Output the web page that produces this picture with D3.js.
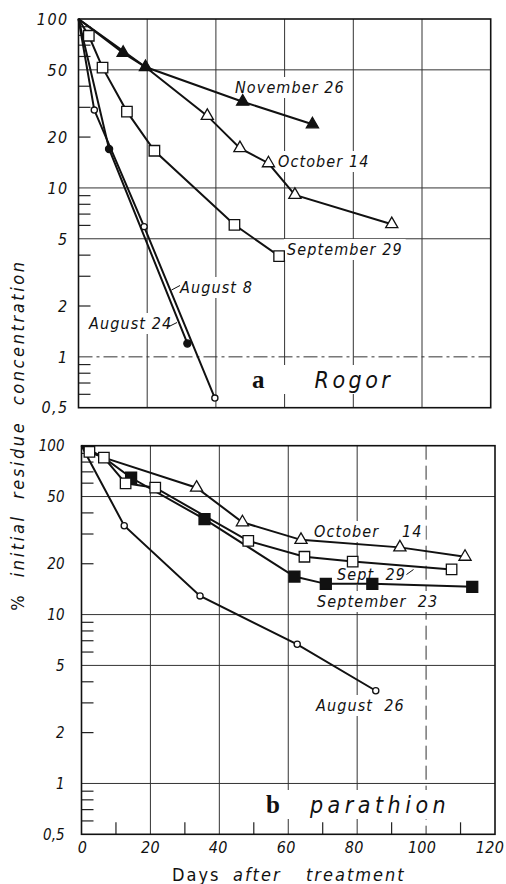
<!DOCTYPE html>
<html>
<head>
<meta charset="utf-8">
<script src="https://cdn.jsdelivr.net/npm/d3@7"></script>
<style>
body { margin: 0; background: #fff; }
text { font-family: "DejaVu Sans Condensed", "DejaVu Sans", sans-serif; fill: #111; }
.it { font-style: italic; }
</style>
</head>
<body>
<div id="chart"></div>
<script>
var width = 506;
var height = 884;

// axis ticks
var yTicks = [100, 50, 20, 10, 5, 2, 1, 0.5];
var yTickLabels = ["100", "50", "20", "10", "5", "2", "1", "0,5"];
var yGrid = [50, 10, 5, 1];
var yMinor = [0.6, 0.7, 0.8, 0.9, 2, 3, 4, 6, 7, 8, 9, 20, 30, 40, 60, 70, 80, 90];
var xTicks = [0, 20, 40, 60, 80, 100, 120];
var xGrid = [20, 40, 60, 80, 100];
var xMinor = [10, 30, 50, 70, 90, 110];

// a  Rogor : [days, % initial residue]
var rogorNov26 = [[0, 100], [13, 63], [19.5, 52], [47.8, 32.4], [68.1, 23.8]];
var rogorOct14 = [[0, 100], [19.5, 52], [37.5, 26.7], [47, 17.2], [55.3, 14], [63, 9.1], [91.2, 6.1]];
var rogorSep29 = [[0, 100], [3, 79.6], [7, 51.5], [14.1, 28.3], [22.1, 16.6], [45.4, 6.05], [58.4, 3.95]];
var rogorAug8 = [[0, 100], [4.6, 28.9], [19.1, 5.9], [39.7, 0.57]];
var rogorAug24 = [[0, 100], [8.9, 17], [31.7, 1.2]];

// b  parathion
var parOct14 = [[0, 100], [6.5, 85], [33.4, 56.4], [46.7, 35.2], [63.7, 27.7], [92.4, 25], [111.3, 22]];
var parSep29 = [[0, 100], [2.3, 92], [6.5, 85], [12.8, 59.9], [21.4, 56.4], [48.4, 27.3], [64.7, 22], [78.7, 20.6], [107.4, 18.5]];
var parSep23 = [[0, 100], [2.3, 92], [6.5, 85], [14.4, 64.6], [35.7, 36.7], [61.8, 16.8], [70.9, 15.2], [84.4, 15.2], [113.4, 14.6]];
var parAug26 = [[0, 100], [12.4, 33.6], [34.4, 12.9], [62.6, 6.67], [85.4, 3.54]];

var panels = [
  {top: 19, bottom: 407.7, left: 78.5, right: 490.7, tickFont: 16, tickSpacing: 1.4, tickGap: 10,
   minorX: false, dashY: [1], dashX: [],
   series: [
     {pts: rogorNov26, mark: "triFill", from: 1},
     {pts: rogorOct14, mark: "tri", from: 2},
     {pts: rogorSep29, mark: "sq", from: 1},
     {pts: rogorAug24, mark: "circFill", from: 1},
     {pts: rogorAug8, mark: "circ", from: 1}
   ],
   labels: [
     {t: "November 26", x: 235, y: 93},
     {t: "October 14", x: 278, y: 167},
     {t: "September 29", x: 287, y: 255},
     {t: "August 8", x: 180, y: 293},
     {t: "August 24", x: 89, y: 329}
   ],
   leaders: [[171.5, 290, 180, 285.5], [168, 327, 177, 322.5]],
   title: {a: "a", b: "Rogor", x: 252, y: 388, gap: 50, spacing: 3.5}
  },
  {top: 445.7, bottom: 834.3, left: 81.5, right: 495, tickFont: 15, tickSpacing: 0, tickGap: 17,
   minorX: true, dashY: [], dashX: [100],
   series: [
     {pts: parOct14, mark: "tri", from: 2},
     {pts: parSep23, mark: "sqFill", from: 3},
     {pts: parSep29, mark: "sq", from: 1},
     {pts: parAug26, mark: "circ", from: 1}
   ],
   labels: [
     {t: "October    14", x: 314, y: 537},
     {t: "Sept. 29", x: 337, y: 580},
     {t: "September  23", x: 317, y: 607},
     {t: "August  26", x: 316, y: 711}
   ],
   leaders: [[406.5, 574.5, 413.5, 569.5]],
   title: {a: "b", b: "parathion", x: 266, y: 813, gap: 30, spacing: 4.5}
  }
];

var svg = d3.select("#chart")
  .append("svg")
  .attr("width", width)
  .attr("height", height);

var symbols = {
  tri: {type: d3.symbolTriangle, size: 64, fill: "#fff"},
  triFill: {type: d3.symbolTriangle, size: 64, fill: "#111"},
  sq: {type: d3.symbolSquare, size: 110, fill: "#fff"},
  sqFill: {type: d3.symbolSquare, size: 120, fill: "#111"},
  circ: {type: d3.symbolCircle, size: 30, fill: "#fff"},
  circFill: {type: d3.symbolCircle, size: 40, fill: "#111"}
};

panels.forEach(function(p) {
  var x = d3.scaleLinear().domain([0, 120]).range([p.left, p.right]);
  var y = d3.scaleLog().domain([0.5, 100]).range([p.bottom, p.top]);
  var g = svg.append("g");

  // grid
  g.selectAll(".hgrid").data(yGrid).enter().append("line")
    .attr("x1", p.left).attr("x2", p.right)
    .attr("y1", function(d) { return y(d); }).attr("y2", function(d) { return y(d); })
    .attr("stroke", "#333").attr("stroke-width", 1)
    .attr("stroke-dasharray", function(d) { return p.dashY.indexOf(d) >= 0 ? "14,4,3,4" : null; });
  g.selectAll(".vgrid").data(xGrid).enter().append("line")
    .attr("y1", p.top).attr("y2", p.bottom)
    .attr("x1", function(d) { return x(d); }).attr("x2", function(d) { return x(d); })
    .attr("stroke", "#333").attr("stroke-width", 1)
    .attr("stroke-dasharray", function(d) { return p.dashX.indexOf(d) >= 0 ? "14,6" : null; });

  // minor ticks on the value axis
  g.selectAll(".ymin").data(yMinor).enter().append("line")
    .attr("x1", p.left).attr("x2", p.left + 12)
    .attr("y1", function(d) { return y(d); }).attr("y2", function(d) { return y(d); })
    .attr("stroke", "#222").attr("stroke-width", 1.2);
  if (p.minorX) {
    g.selectAll(".xmin").data(xMinor).enter().append("line")
      .attr("y1", p.bottom).attr("y2", p.bottom - 12)
      .attr("x1", function(d) { return x(d); }).attr("x2", function(d) { return x(d); })
      .attr("stroke", "#222").attr("stroke-width", 1.2);
  }

  // labels with white backing
  function backed(node) {
    var b = node.getBBox();
    g.insert("rect", function() { return node; })
      .attr("x", b.x - 3).attr("y", b.y - 1)
      .attr("width", b.width + 6).attr("height", b.height + 2)
      .attr("fill", "#fff");
  }

  p.labels.forEach(function(l) {
    var t = g.append("text")
      .attr("class", "it")
      .attr("x", l.x).attr("y", l.y)
      .attr("font-size", 16)
      .attr("letter-spacing", 1.1)
      .style("white-space", "pre")
      .text(l.t);
    backed(t.node());
  });

  var tt = g.append("text").attr("x", p.title.x).attr("y", p.title.y).style("white-space", "pre");
  tt.append("tspan")
    .attr("font-family", "'Liberation Serif', serif")
    .attr("font-weight", "bold")
    .attr("font-size", 25)
    .text(p.title.a);
  tt.append("tspan")
    .attr("class", "it")
    .attr("font-size", 23)
    .attr("letter-spacing", p.title.spacing)
    .attr("dx", p.title.gap)
    .text(p.title.b);
  backed(tt.node());

  p.leaders.forEach(function(l) {
    g.append("line").attr("x1", l[0]).attr("y1", l[1]).attr("x2", l[2]).attr("y2", l[3])
      .attr("stroke", "#111").attr("stroke-width", 1);
  });

  // frame
  g.append("rect")
    .attr("x", p.left).attr("y", p.top)
    .attr("width", p.right - p.left).attr("height", p.bottom - p.top)
    .attr("fill", "none").attr("stroke", "#111").attr("stroke-width", 1.6);

  // y tick labels
  g.selectAll(".ylab").data(yTicks).enter().append("text")
    .attr("class", "it")
    .attr("x", p.left - p.tickGap)
    .attr("y", function(d) { return y(d); })
    .attr("dy", "0.36em")
    .attr("text-anchor", "end")
    .attr("font-size", p.tickFont)
    .attr("letter-spacing", p.tickSpacing)
    .text(function(d, i) { return yTickLabels[i]; });

  // series
  var line = d3.line()
    .x(function(d) { return x(d[0]); })
    .y(function(d) { return y(d[1]); });

  p.series.forEach(function(s) {
    g.append("path")
      .attr("d", line(s.pts))
      .attr("fill", "none")
      .attr("stroke", "#111")
      .attr("stroke-width", 2);
  });
  p.series.forEach(function(s) {
    var sym = symbols[s.mark];
    g.selectAll(null).data(s.pts.slice(s.from)).enter().append("path")
      .attr("transform", function(d) { return "translate(" + x(d[0]) + "," + y(d[1]) + ")"; })
      .attr("d", d3.symbol().type(sym.type).size(sym.size))
      .attr("fill", sym.fill)
      .attr("stroke", "#111")
      .attr("stroke-width", 1.3);
  });

  if (p.minorX) {
    g.selectAll(".xlab").data(xTicks).enter().append("text")
      .attr("class", "it")
      .attr("x", function(d) { return x(d) + 1 - d / 20; })
      .attr("y", p.bottom + 19)
      .attr("text-anchor", "middle")
      .attr("font-size", 16)
      .attr("letter-spacing", 0.3)
      .text(function(d) { return d; });
  }
});

// axis titles
var xt = svg.append("text")
  .attr("y", 881)
  .attr("font-size", 18)
  .attr("letter-spacing", 2);
xt.append("tspan").attr("x", 172).text("Days");
xt.append("tspan").attr("x", 233).attr("class", "it").text("after");
xt.append("tspan").attr("x", 306).attr("class", "it").text("treatment");

var yt = svg.append("text")
  .attr("transform", "translate(24,435) rotate(-90)")
  .attr("text-anchor", "middle")
  .attr("font-size", 18)
  .attr("letter-spacing", 2.6)
  .style("white-space", "pre");
yt.append("tspan").text("% ");
yt.append("tspan").attr("class", "it").text(" initial  residue  concentration");
</script>
</body>
</html>
